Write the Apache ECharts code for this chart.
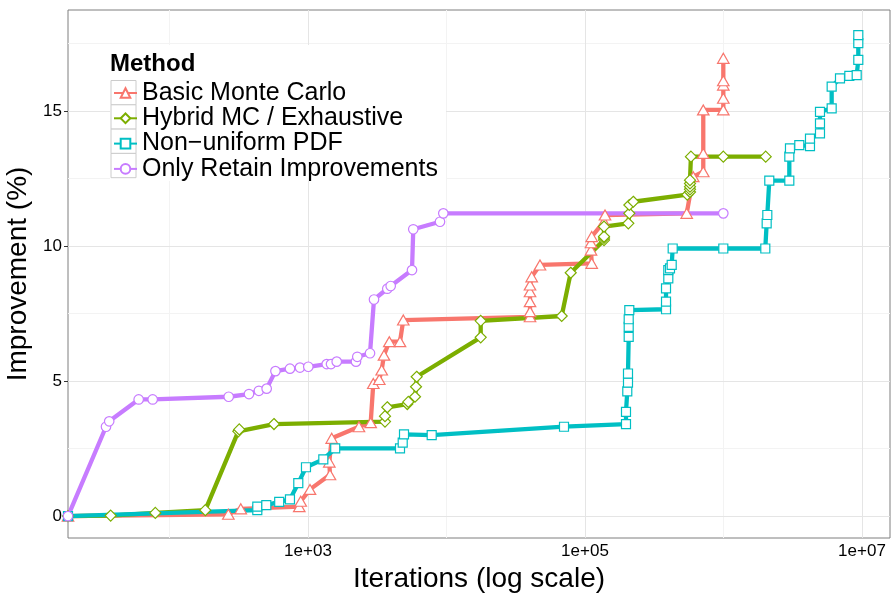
<!DOCTYPE html>
<html>
<head>
<meta charset="utf-8">
<script src="https://cdn.jsdelivr.net/npm/echarts@6/dist/echarts.min.js"></script>
<style>
  html, body { margin: 0; padding: 0; background: #ffffff; }
  #chart { width: 891px; height: 593px; }
</style>
</head>
<body>
<div id="chart"></div>
<script>
// Search methods, in legend order
const methods = ['Basic Monte Carlo', 'Hybrid MC / Exhaustive', 'Non\u2212uniform PDF', 'Only Retain Improvements'];

// Axis breaks (iterations on a log10 scale, improvement in percent)
const xMajorTicks = [1e3, 1e5, 1e7];
const xMinorTicks = [1e2, 1e4, 1e6];
const yMajorTicks = [0, 5, 10, 15];
const yMinorTicks = [2.5, 7.5, 12.5, 17.5];

// Basic Monte Carlo
const basicIter = [18.5, 266, 327, 865, 886, 1034, 1441, 1425, 1483, 2333, 2836, 2961, 3271, 3405, 3538, 3864, 4617, 4876,
  40090, 40090, 40090, 40090, 40090, 41230, 47320, 111800, 110500, 110500, 111800, 137200, 139500,
  542500, 605000, 714500, 714500, 714500, 997000, 997000, 997000, 997000, 997000];
const basicImpr = [0, 0.07, 0.27, 0.35, 0.55, 0.99, 1.53, 2.0, 2.88, 3.31, 3.46, 4.91, 5.06, 5.41, 5.96, 6.46, 6.46, 7.26,
  7.38, 7.57, 7.94, 8.31, 8.56, 8.86, 9.30, 9.36, 9.85, 10.12, 10.35, 10.9, 11.15,
  11.21, 12.57, 12.75, 13.43, 15.04, 15.04, 15.47, 15.96, 16.12, 16.95];

// Hybrid MC / Exhaustive
const hybridIter = [18.5, 37.6, 79, 181.4, 314, 319, 568, 3597, 3597, 3737, 5212, 5300, 5925, 6025, 6092,
  17660, 17660, 67880, 78860, 137200, 137200, 137200, 137200, 205500, 209000, 209000, 223300,
  547800, 573000, 573000, 573000, 573000, 573000, 582000, 997000, 2017000];
const hybridImpr = [0, 0.02, 0.12, 0.22, 3.14, 3.21, 3.41, 3.5, 3.7, 4.03, 4.15, 4.23, 4.42, 4.79, 5.16,
  6.62, 7.23, 7.41, 9.01, 10.22, 10.3, 10.35, 10.72, 10.84, 11.21, 11.52, 11.64,
  11.9, 12.0, 12.1, 12.2, 12.32, 12.44, 13.31, 13.31, 13.31];

// Non-uniform PDF
const pdfIter = [18.5, 430.5, 430.5, 500, 619.5, 741, 851, 967, 1290, 1572, 4617, 4829, 4934, 7820, 70540,
  197700, 197700, 202000, 204400, 204400, 206800, 206800, 206800, 208900,
  384600, 384600, 384600, 399500, 399500, 410900, 422700, 429700, 997000,
  2004000, 2050000, 2072000, 2141000, 2987000, 2987000, 3020000, 3526000, 4212000, 4212000,
  4974000, 4974000, 4974000, 6040000, 6040000, 6937000, 8100000, 9157000, 9404000, 9404000, 9404000];
const pdfImpr = [0, 0.22, 0.35, 0.41, 0.53, 0.62, 1.22, 1.81, 2.1, 2.51, 2.51, 2.72, 3.03, 3.0, 3.31,
  3.41, 3.86, 4.62, 4.94, 5.28, 6.64, 7.01, 7.29, 7.63,
  7.66, 7.94, 8.43, 8.8, 9.11, 9.17, 9.3, 9.91, 9.91,
  9.91, 10.84, 11.15, 12.42, 12.42, 13.31, 13.62, 13.74, 13.7, 13.98,
  14.17, 14.54, 14.97, 15.1, 15.9, 16.21, 16.3, 16.33, 16.89, 17.51, 17.81];

// Only Retain Improvements
const retainIter = [18.5, 34.8, 36.7, 59.9, 75.6, 267.6, 375, 442, 503, 582, 741, 875, 1005, 1365, 1466, 1612,
  2221, 2270, 2804, 2996, 3737, 3954, 5636, 5756, 8975, 9484, 997000];
const retainImpr = [0, 3.31, 3.51, 4.32, 4.32, 4.42, 4.52, 4.64, 4.72, 5.37, 5.46, 5.5, 5.53, 5.63, 5.63, 5.72,
  5.72, 5.9, 6.03, 8.02, 8.42, 8.52, 9.11, 10.62, 10.9, 11.21, 11.21];

const iterSeries = [basicIter, hybridIter, pdfIter, retainIter];
const imprSeries = [basicImpr, hybridImpr, pdfImpr, retainImpr];

// Styling
const palette = ['#F8766D', '#7CAE00', '#00BFC4', '#C77CFF'];
const shapes = ['triangle', 'diamond', 'rect', 'circle'];
const shapeSizes = [[11.5, 10], [11, 11], [9, 9], [9.5, 9.5]];
const fontFamily = '"Liberation Sans", Arial, Helvetica, sans-serif';
const majorGrid = '#e5e5e5';
const minorGrid = '#f3f3f3';
const legendLeft = 113, legendTop = 80.5, legendRow = 24.3;

const fmtExp = v => {
  const e = Math.round(Math.log10(v));
  return '1e+' + (e < 10 ? '0' : '') + e;
};

const toPairs = (xs, ys) => xs.map((x, i) => [x, ys[i]]);

// Panel grid lines, drawn through the axes' own scales
const gridLineSeries = {
  type: 'line',
  data: [],
  silent: true,
  z: 1,
  markLine: {
    silent: true,
    symbol: 'none',
    z: 1,
    animation: false,
    label: { show: false },
    emphasis: { disabled: true },
    lineStyle: { type: 'solid', width: 1 },
    data: [
      ...xMinorTicks.map(v => ({ xAxis: v, lineStyle: { color: minorGrid, type: 'solid', width: 1 } })),
      ...yMinorTicks.map(v => ({ yAxis: v, lineStyle: { color: minorGrid, type: 'solid', width: 1 } })),
      ...xMajorTicks.map(v => ({ xAxis: v, lineStyle: { color: majorGrid, type: 'solid', width: 1 } })),
      ...yMajorTicks.map(v => ({ yAxis: v, lineStyle: { color: majorGrid, type: 'solid', width: 1 } }))
    ]
  }
};

// Paths first (all methods), then the open markers on top
const pathSeries = methods.map((name, k) => ({
  type: 'line',
  name: name,
  data: toPairs(iterSeries[k], imprSeries[k]),
  showSymbol: false,
  symbol: shapes[k],
  symbolSize: shapeSizes[k],
  lineStyle: { width: 4.3, color: palette[k], join: 'round', cap: 'butt' },
  itemStyle: { color: '#ffffff', borderColor: palette[k], borderWidth: 1.2 },
  emphasis: { disabled: true },
  z: 3
}));

const markerSeries = methods.map((name, k) => ({
  type: 'scatter',
  name: name,
  data: toPairs(iterSeries[k], imprSeries[k]),
  symbol: shapes[k],
  symbolSize: shapeSizes[k],
  itemStyle: { color: '#ffffff', borderColor: palette[k], borderWidth: 1.2, opacity: 1 },
  emphasis: { disabled: true },
  z: 4
}));

const chart = echarts.init(document.getElementById('chart'), null, { renderer: 'canvas' });

chart.setOption({
  animation: false,
  backgroundColor: '#ffffff',
  textStyle: { fontFamily: fontFamily },
  title: {
    text: 'Method',
    left: 110,
    top: 52,
    padding: 0,
    textStyle: { fontSize: 24, fontWeight: 'bold', color: '#000000', fontFamily: fontFamily }
  },
  legend: {
    data: methods,
    orient: 'vertical',
    left: legendLeft,
    top: legendTop,
    padding: 0,
    itemWidth: 23,
    itemHeight: 12,
    itemGap: 0.3,
    selectedMode: false,
    z: 4,
    textStyle: { fontSize: 25, lineHeight: 24, color: '#000000', fontFamily: fontFamily }
  },
  graphic: [
    { type: 'rect', silent: true, z: 2, shape: { x: 110, y: 45, width: 336, height: 136 }, style: { fill: '#ffffff' } },
    ...methods.map((m, i) => ({
      type: 'rect', silent: true, z: 2,
      shape: { x: legendLeft - 2, y: legendTop + legendRow * i, width: 25, height: legendRow },
      style: { fill: '#ffffff', stroke: '#cccccc', lineWidth: 1 }
    }))
  ],
  grid: {
    left: 68, top: 10, right: 1, bottom: 55,
    containLabel: false,
    outerBoundsMode: 'none',
    show: true, borderColor: '#7f7f7f', borderWidth: 1, backgroundColor: 'transparent'
  },
  xAxis: {
    type: 'log',
    logBase: 10,
    min: 18.5,
    max: 1.593e7,
    name: 'Iterations (log scale)',
    nameLocation: 'middle',
    nameGap: 24,
    nameTextStyle: { fontSize: 28, color: '#000000', fontFamily: fontFamily },
    axisLine: { show: false },
    axisTick: { show: true, length: 4, customValues: xMajorTicks, lineStyle: { color: '#333333' } },
    axisLabel: { customValues: xMajorTicks, formatter: fmtExp, fontSize: 17, color: '#000000', margin: 5, fontFamily: fontFamily },
    splitLine: { show: false },
    minorSplitLine: { show: false }
  },
  yAxis: {
    type: 'value',
    min: -0.81,
    max: 18.74,
    name: 'Improvement (%)',
    nameLocation: 'middle',
    nameGap: 30,
    nameTextStyle: { fontSize: 28, color: '#000000', fontFamily: fontFamily },
    axisLine: { show: false },
    axisTick: { show: true, length: 4, customValues: yMajorTicks, lineStyle: { color: '#333333' } },
    axisLabel: { customValues: yMajorTicks, fontSize: 17, color: '#000000', margin: 6, fontFamily: fontFamily },
    splitLine: { show: false }
  },
  series: [gridLineSeries, ...pathSeries, ...markerSeries]
});
</script>
</body>
</html>
